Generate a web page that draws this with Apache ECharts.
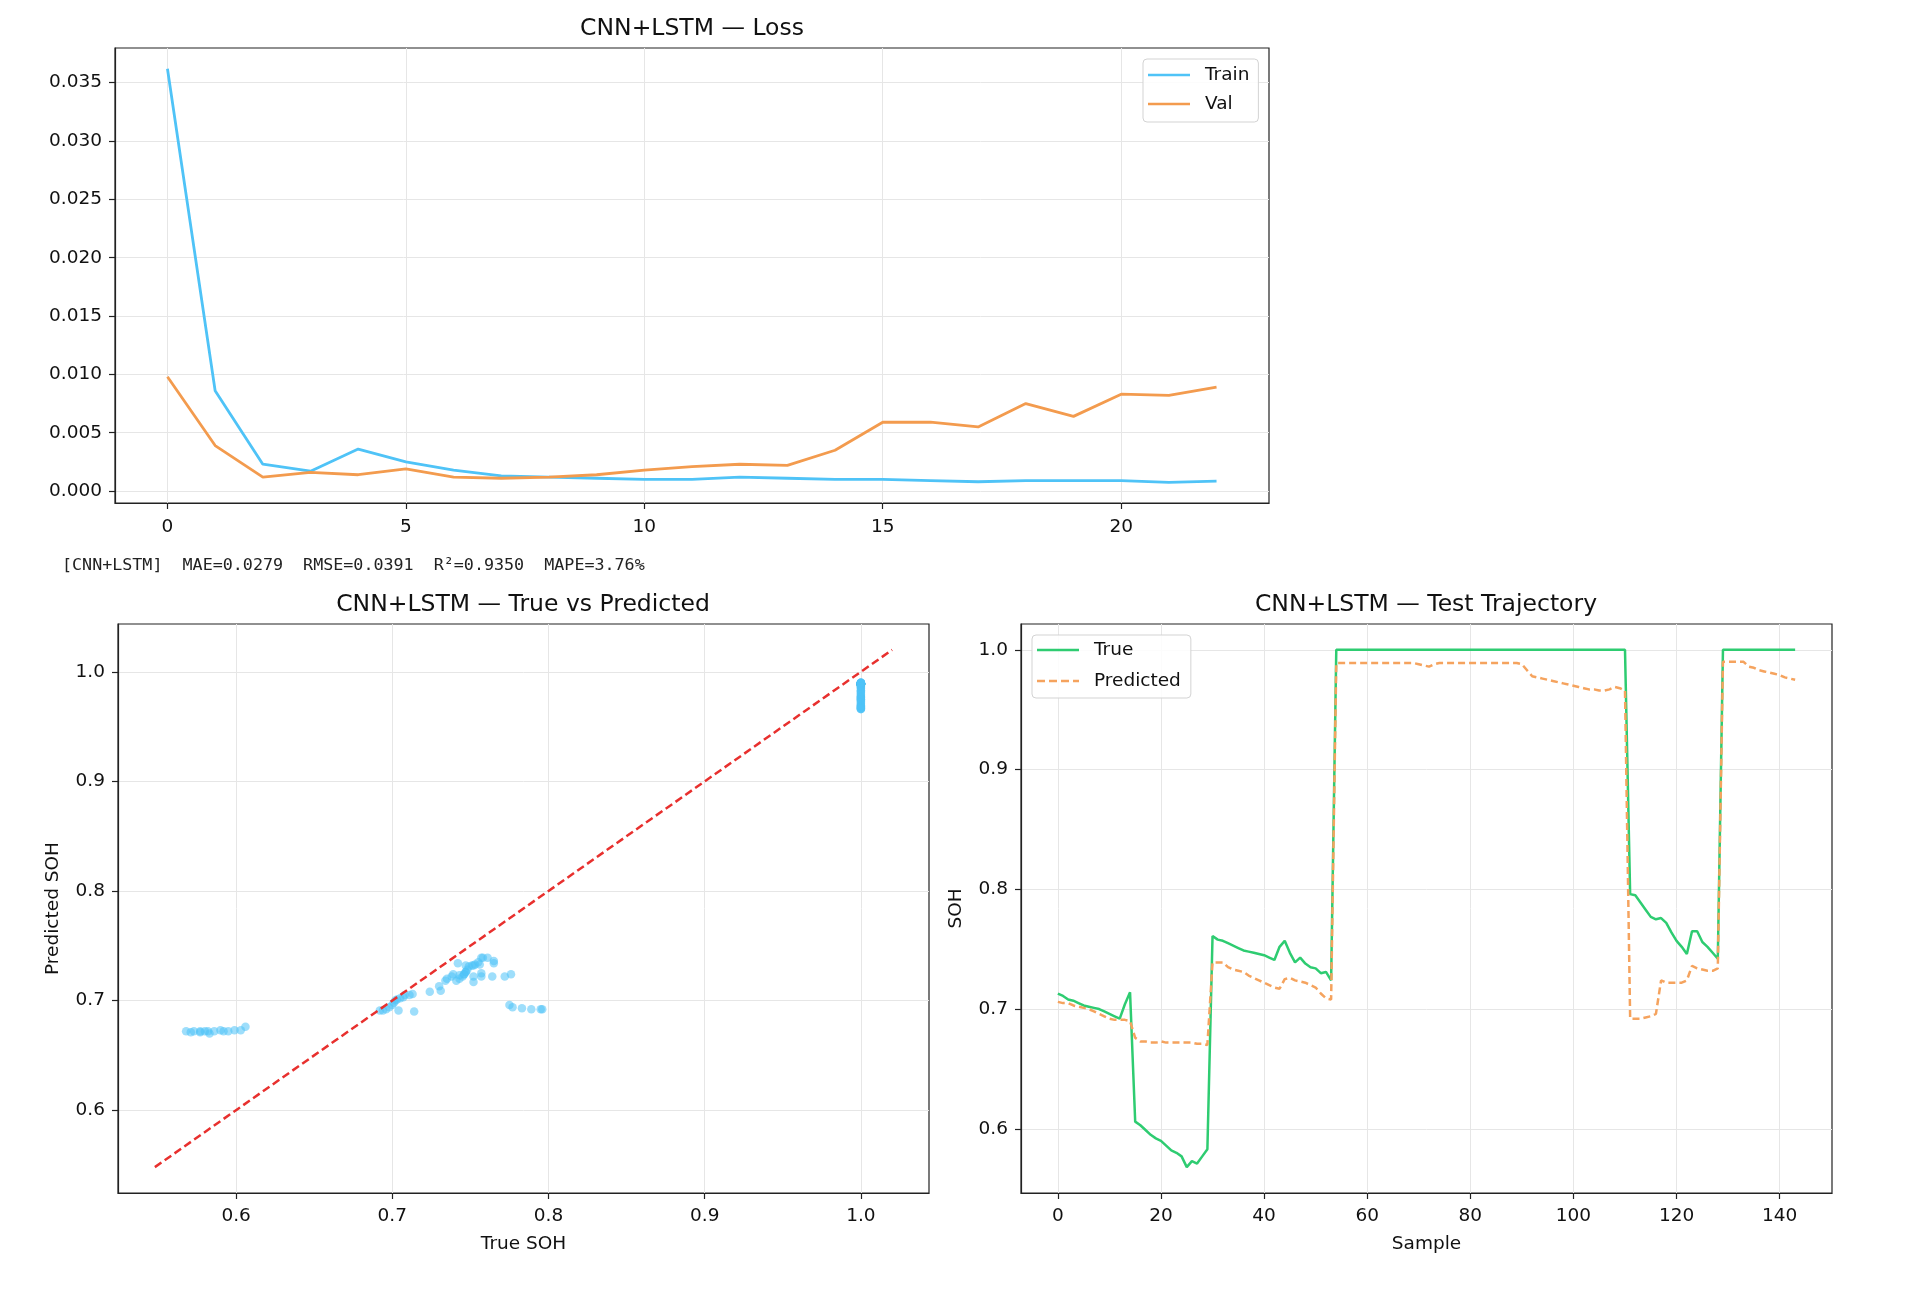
<!DOCTYPE html>
<html>
<head>
<meta charset="utf-8">
<title>CNN+LSTM</title>
<script src="https://cdn.jsdelivr.net/npm/echarts@6/dist/echarts.min.js"></script>
<style>
    html, body { margin: 0; padding: 0; background: #fff; }
    #chart { width: 1920px; height: 1299px; }
</style>
</head>
<body>
<div id="chart"></div>
<script>
// ---- 数据 ----
var epochs = [0, 1, 2, 3, 4, 5, 6, 7, 8, 9, 10, 11, 12, 13, 14, 15, 16, 17, 18, 19, 20, 21, 22];
var trainLoss = [0.0362, 0.0086, 0.0023, 0.0017, 0.0036, 0.0025, 0.0018, 0.0013, 0.0012, 0.0011, 0.0010, 0.0010,
    0.0012, 0.0011, 0.0010, 0.0010, 0.0009, 0.0008, 0.0009, 0.0009, 0.0009, 0.00075, 0.00085];
var valLoss = [0.0098, 0.0039, 0.0012, 0.0016, 0.0014, 0.0019, 0.0012, 0.0011, 0.0012, 0.0014, 0.0018, 0.0021,
    0.0023, 0.0022, 0.0035, 0.0059, 0.0059, 0.0055, 0.0075, 0.0064, 0.0083, 0.0082, 0.0089];

// test set, one value per sample
var trueSOH = [
    0.713, 0.711, 0.708, 0.707, 0.705, 0.703, 0.702, 0.701, 0.700, 0.698,
    0.696, 0.694, 0.692, 0.704, 0.714, 0.606, 0.603, 0.599, 0.595, 0.592,
    0.590, 0.586, 0.582, 0.580, 0.577, 0.568, 0.573, 0.571, 0.577, 0.583,
    0.761, 0.758, 0.757, 0.755, 0.753, 0.751, 0.749, 0.748, 0.747, 0.746,
    0.745, 0.743, 0.741, 0.752, 0.757, 0.747, 0.739, 0.743, 0.738, 0.735,
    0.734, 0.730, 0.731, 0.724,
    1.000, 1.000, 1.000, 1.000, 1.000, 1.000, 1.000, 1.000, 1.000, 1.000,
    1.000, 1.000, 1.000, 1.000, 1.000, 1.000, 1.000, 1.000, 1.000, 1.000,
    1.000, 1.000, 1.000, 1.000, 1.000, 1.000, 1.000, 1.000, 1.000, 1.000,
    1.000, 1.000, 1.000, 1.000, 1.000, 1.000, 1.000, 1.000, 1.000, 1.000,
    1.000, 1.000, 1.000, 1.000, 1.000, 1.000, 1.000, 1.000, 1.000, 1.000,
    1.000, 1.000, 1.000, 1.000, 1.000, 1.000, 1.000,
    0.796, 0.795, 0.789, 0.783, 0.777, 0.775, 0.776, 0.772, 0.764, 0.757,
    0.752, 0.746, 0.765, 0.765, 0.756, 0.752, 0.747, 0.742,
    1.000, 1.000, 1.000, 1.000, 1.000, 1.000, 1.000, 1.000, 1.000, 1.000,
    1.000, 1.000, 1.000, 1.000, 1.000
];
var predSOH = [
    0.706, 0.705, 0.705, 0.703, 0.702, 0.701, 0.700, 0.698, 0.696, 0.694,
    0.692, 0.691, 0.691, 0.691, 0.690, 0.676, 0.673, 0.673, 0.672, 0.672,
    0.673, 0.672, 0.672, 0.672, 0.672, 0.672, 0.672, 0.671, 0.671, 0.670,
    0.739, 0.739, 0.739, 0.735, 0.733, 0.732, 0.731, 0.728, 0.726, 0.724,
    0.722, 0.720, 0.718, 0.717, 0.725, 0.726, 0.724, 0.723, 0.722, 0.720,
    0.718, 0.713, 0.709, 0.708,
    0.989, 0.989, 0.989, 0.989, 0.989, 0.989, 0.989, 0.989, 0.989, 0.989,
    0.989, 0.989, 0.989, 0.989, 0.989, 0.989,
    0.988, 0.987, 0.986, 0.988,
    0.989, 0.989, 0.989, 0.989, 0.989, 0.989, 0.989, 0.989, 0.989, 0.989,
    0.989, 0.989, 0.989, 0.989, 0.989, 0.989, 0.988,
    0.983, 0.978, 0.977, 0.976, 0.975, 0.974, 0.973, 0.972, 0.971, 0.970,
    0.969, 0.968, 0.967, 0.967, 0.966, 0.966, 0.967, 0.969, 0.968, 0.966,
    0.692, 0.692, 0.692, 0.693, 0.694, 0.696, 0.724, 0.722, 0.722, 0.722,
    0.722, 0.724, 0.736, 0.734, 0.733, 0.732, 0.732, 0.734,
    0.990, 0.990, 0.990, 0.990, 0.990, 0.986, 0.985, 0.983, 0.982, 0.981,
    0.980, 0.979, 0.977, 0.976, 0.975
];

// tick labels
var lossXTicks = [0, 5, 10, 15, 20];
var lossYTicks = [0, 0.005, 0.010, 0.015, 0.020, 0.025, 0.030, 0.035];
var sohTicks = [0.6, 0.7, 0.8, 0.9, 1.0];
var sampleTicks = [0, 20, 40, 60, 80, 100, 120, 140];

var metricsText = '[CNN+LSTM]  MAE=0.0279  RMSE=0.0391  R\u00b2=0.9350  MAPE=3.76%';

// ---- 样式 ----
var FONT = 'DejaVu Sans';
var C_TRAIN = '#4fc3f7', C_VAL = '#f39b4e', C_TRUE = '#2ecc71', C_PRED = '#f5a35e', C_DIAG = '#e8302e';
// 图例里的线段图标(实线/虚线), 比例 42:2.6
var ICON_SOLID = 'path://M0,0h42v2.6h-42z';
var ICON_DASH = 'path://M0,0h8v2.6h-8z M12,0h8v2.6h-8z M24,0h8v2.6h-8z M36,0h6v2.6h-6z';

// matplotlib 默认留 5% 边距
function padRange(lo, hi) {
    var p = (hi - lo) * 0.05;
    return [lo - p, hi + p];
}
function minOf() { return Math.min.apply(null, [].concat.apply([], arguments)); }
function maxOf() { return Math.max.apply(null, [].concat.apply([], arguments)); }

var lossXRange = padRange(minOf(epochs), maxOf(epochs));
var lossYRange = padRange(minOf(trainLoss, valLoss), maxOf(trainLoss, valLoss));
var diagLo = minOf(trueSOH, predSOH) - 0.02, diagHi = maxOf(trueSOH, predSOH) + 0.02;
var scatRange = padRange(diagLo, diagHi);
var sampleRange = padRange(0, trueSOH.length - 1);
var trajYRange = padRange(minOf(trueSOH, predSOH), maxOf(trueSOH, predSOH));

function axis(grid, range, ticks, dec, margin, name, nameGap) {
    return {
        type: 'value', gridIndex: grid, min: range[0], max: range[1],
        name: name || '', nameLocation: 'middle', nameGap: nameGap || 0,
        nameTextStyle: { fontFamily: FONT, fontSize: 18.5, color: '#111' },
        axisLine: { show: true, onZero: false, lineStyle: { color: '#222', width: 1.2 } },
        axisTick: { show: true, length: 6, customValues: ticks, lineStyle: { color: '#222', width: 1.2 } },
        axisLabel: {
            customValues: ticks, margin: margin, color: '#111', fontFamily: FONT, fontSize: 18.5,
            formatter: function (v) { return v.toFixed(dec); }
        },
        splitLine: { show: true, lineStyle: { color: '#e6e6e6', width: 1 } }
    };
}

function pairs(xs, ys) {
    return xs.map(function (x, i) { return [x, ys[i]]; });
}
var sampleIdx = trueSOH.map(function (v, i) { return i; });

var legendBase = {
    orient: 'vertical', itemWidth: 42, itemHeight: 2.6,
    backgroundColor: 'rgba(255,255,255,0.85)', borderColor: '#d3d3d3', borderWidth: 1, borderRadius: 4,
    textStyle: { fontFamily: FONT, fontSize: 18.5, color: '#111', lineHeight: 22, padding: [0, 0, 0, 10] }
};

var titleStyle = { fontFamily: FONT, fontSize: 23.5, fontWeight: 'normal', color: '#111' };

var option = {
    animation: false,
    backgroundColor: '#fff',
    title: [
        { text: 'CNN+LSTM \u2014 Loss', left: 692, top: 17, textAlign: 'center', padding: 0, textStyle: titleStyle },
        { text: 'CNN+LSTM \u2014 True vs Predicted', left: 523, top: 593, textAlign: 'center', padding: 0, textStyle: titleStyle },
        { text: 'CNN+LSTM \u2014 Test Trajectory', left: 1426, top: 593, textAlign: 'center', padding: 0, textStyle: titleStyle }
    ],
    grid: [
        { left: 115, top: 48, width: 1154, height: 455, show: true, borderColor: '#222', borderWidth: 1.2, backgroundColor: 'transparent' },
        { left: 118, top: 624, width: 811, height: 569, show: true, borderColor: '#222', borderWidth: 1.2, backgroundColor: 'transparent' },
        { left: 1021, top: 624, width: 811, height: 569, show: true, borderColor: '#222', borderWidth: 1.2, backgroundColor: 'transparent' }
    ],
    xAxis: [
        axis(0, lossXRange, lossXTicks, 0, 15),
        axis(1, scatRange, sohTicks, 1, 14, 'True SOH', 42),
        axis(2, sampleRange, sampleTicks, 0, 14, 'Sample', 42)
    ],
    yAxis: [
        axis(0, lossYRange, lossYTicks, 3, 13),
        axis(1, scatRange, sohTicks, 1, 13, 'Predicted SOH', 55),
        axis(2, trajYRange, sohTicks, 1, 13, 'SOH', 55)
    ],
    legend: [
        Object.assign({}, legendBase, {
            data: [{ name: 'Train', icon: ICON_SOLID }, { name: 'Val', icon: ICON_SOLID }],
            left: 1143, top: 59, padding: [5, 9, 7, 5], itemGap: 7
        }),
        Object.assign({}, legendBase, {
            data: [{ name: 'True', icon: ICON_SOLID }, { name: 'Predicted', icon: ICON_DASH }],
            left: 1032, top: 635, padding: [4, 10, 6, 5], itemGap: 9
        })
    ],
    series: [
        {
            name: 'Train', type: 'line', xAxisIndex: 0, yAxisIndex: 0, symbol: 'none',
            data: pairs(epochs, trainLoss), lineStyle: { color: C_TRAIN, width: 2.8 }, itemStyle: { color: C_TRAIN }
        },
        {
            name: 'Val', type: 'line', xAxisIndex: 0, yAxisIndex: 0, symbol: 'none',
            data: pairs(epochs, valLoss), lineStyle: { color: C_VAL, width: 2.8 }, itemStyle: { color: C_VAL }
        },
        {
            name: 'points', type: 'scatter', xAxisIndex: 1, yAxisIndex: 1, symbolSize: 8.5,
            data: pairs(trueSOH, predSOH), itemStyle: { color: C_TRAIN, opacity: 0.55 }
        },
        {
            name: 'ideal', type: 'line', xAxisIndex: 1, yAxisIndex: 1, symbol: 'none', z: 3,
            data: [[diagLo, diagLo], [diagHi, diagHi]],
            lineStyle: { color: C_DIAG, width: 2.5, type: [8, 4] }
        },
        {
            name: 'True', type: 'line', xAxisIndex: 2, yAxisIndex: 2, symbol: 'none',
            data: pairs(sampleIdx, trueSOH), lineStyle: { color: C_TRUE, width: 2.5 }, itemStyle: { color: C_TRUE }
        },
        {
            name: 'Predicted', type: 'line', xAxisIndex: 2, yAxisIndex: 2, symbol: 'none',
            data: pairs(sampleIdx, predSOH), lineStyle: { color: C_PRED, width: 2.5, type: [7, 4] }, itemStyle: { color: C_PRED }
        }
    ],
    graphic: [
        {
            type: 'text', left: 62, top: 557,
            style: { text: metricsText, font: '16.7px "DejaVu Sans Mono"', fill: '#222' }
        }
    ]
};

var chart = echarts.init(document.getElementById('chart'));
chart.setOption(option);
</script>
</body>
</html>
